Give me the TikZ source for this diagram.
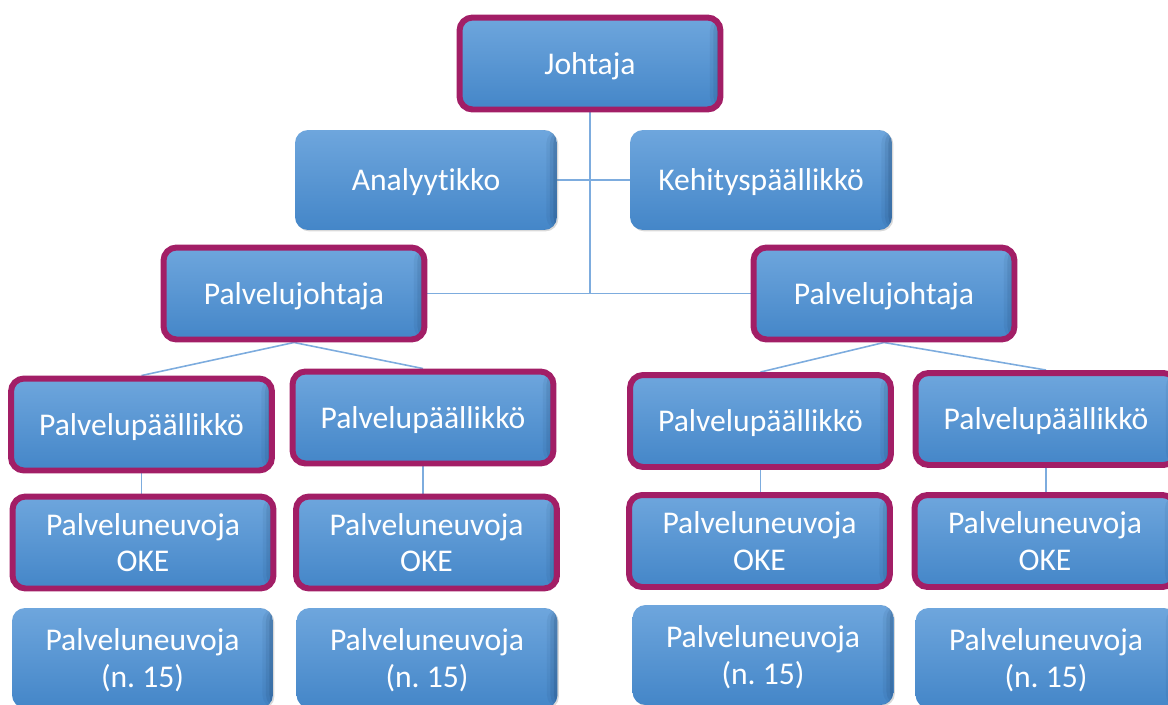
\documentclass[tikz,border=0pt]{standalone}
\usepackage{fontspec}
\setmainfont{Carlito}[Ligatures=NoCommon]
\usetikzlibrary{shadows,backgrounds}
\definecolor{boxtop}{RGB}{110,166,221}
\definecolor{boxbot}{RGB}{68,134,200}
\definecolor{edgec}{RGB}{25,60,100}
\definecolor{rim}{RGB}{162,30,102}
\definecolor{wirec}{RGB}{125,172,222}
\begin{document}
\frenchspacing
\begin{tikzpicture}[x=0.02cm,y=-0.02cm,
  unit/.style={rounded corners=0.26cm, top color=boxtop, bottom color=boxbot,
    text=white, font=\fontsize{18}{21}\selectfont, align=center, inner sep=0pt,
    text depth=0pt,
    drop shadow={shadow xshift=0.8pt,shadow yshift=-0.8pt,opacity=0.3},
    path picture={
      \foreach \w/\o in {6pt/0.08,4pt/0.12,2pt/0.18}
        \fill[edgec, opacity=\o]
          ([xshift=-\w]path picture bounding box.north east)
          rectangle (path picture bounding box.south east);}},
  lead/.style={unit, draw=rim, line width=3.4pt, minimum width=5.22cm, minimum height=1.84cm},
  staff/.style={unit, draw=none, minimum width=5.24cm, minimum height=2cm},
  wire/.style={draw=wirec, line width=0.9pt}]
\useasboundingbox (0,0) rectangle (1168,704);

% top level
\node[lead]  (jo)  at (590,63.5)   {Johtaja};
\node[staff] (an)  at (426,180)    {Analyytikko};
\node[staff] (ke)  at (761,180)    {Kehityspäällikkö};
\node[lead]  (pjL) at (294,293.5)  {Palvelujohtaja};
\node[lead]  (pjR) at (884,293.5)  {Palvelujohtaja};

% service managers
\node[lead] (pp1) at (141.5,424.5) {Palvelupäällikkö};
\node[lead] (pp2) at (423,417.5)   {Palvelupäällikkö};
\node[lead] (pp3) at (760.5,421)   {Palvelupäällikkö};
\node[lead] (pp4) at (1046,419)    {Palvelupäällikkö};

% OKE advisors
\node[lead] (ok1) at (143,542.5)   {Palveluneuvoja\\OKE};
\node[lead] (ok2) at (426.5,542.5) {Palveluneuvoja\\OKE};
\node[lead] (ok3) at (759.5,541)   {Palveluneuvoja\\OKE};
\node[lead] (ok4) at (1045,541)    {Palveluneuvoja\\OKE};

% advisor groups
\node[staff, minimum width=5.22cm] (nb1) at (142.5,658) {Palveluneuvoja\\(n. 15)};
\node[staff, minimum width=5.22cm] (nb2) at (427,658)   {Palveluneuvoja\\(n. 15)};
\node[staff, minimum width=5.22cm] (nb3) at (763,655)   {Palveluneuvoja\\(n. 15)};
\node[staff, minimum width=5.22cm] (nb4) at (1046,658)  {Palveluneuvoja\\(n. 15)};

\begin{scope}[on background layer]
  \draw[wire] (jo.south) -- (jo.south |- pjL.east);
  \draw[wire] (an.east) -- (ke.west);
  \draw[wire] (pjL.east) -- (pjR.west);
  \draw[wire] (pjL.south) -- (pp1.north);
  \draw[wire] (pjL.south) -- (pp2.north);
  \draw[wire] (pjR.south) -- (pp3.north);
  \draw[wire] (pjR.south) -- (pp4.north);
  \draw[wire] (pp1.south) -- (pp1.south |- ok1.north);
  \draw[wire] (pp2.south) -- (pp2.south |- ok2.north);
  \draw[wire] (pp3.south) -- (pp3.south |- ok3.north);
  \draw[wire] (pp4.south) -- (pp4.south |- ok4.north);
\end{scope}
\end{tikzpicture}
\end{document}
